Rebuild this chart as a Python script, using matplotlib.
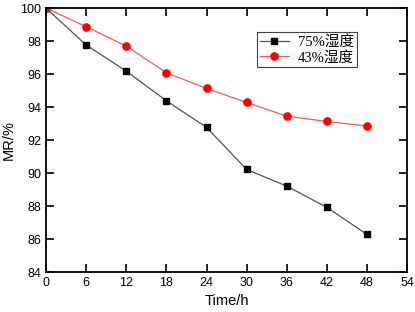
import numpy as np
import matplotlib.pyplot as plt

time_h = [0, 6, 12, 18, 24, 30, 36, 42, 48]
mr_75 = [100, 97.76, 96.18, 94.38, 92.77, 90.22, 89.21, 87.92, 86.28]
mr_43 = [100, 98.87, 97.70, 96.08, 95.13, 94.28, 93.45, 93.13, 92.85]
labels = ['75%湿度', '43%湿度']

plt.rcParams['font.family'] = ['Liberation Sans', 'DejaVu Sans']

fig = plt.figure(figsize=(4.15, 3.12), dpi=100)
ax = fig.add_axes([0.111, 0.128, 0.870, 0.846])

ax.plot(time_h, mr_75, color='#555555', lw=0.9, marker='s', ms=4.6,
        mfc='black', mec='black', label=labels[0])
ax.plot(time_h, mr_43, color='#ff5555', lw=0.9, marker='o', ms=5.2,
        mfc='red', mec='red', label=labels[1])

ax.set_xlim(0, 54)
ax.set_ylim(84, 100)
ax.set_xticks(np.arange(0, 55, 6))
ax.set_yticks(np.arange(84, 101, 2))
ax.tick_params(direction='in', top=True, right=True, labeltop=False,
               labelright=False, labelsize=9, length=5.5, width=1.2)
for s in ax.spines.values():
    s.set_linewidth(1.3)

ax.set_xlabel('Time/h', fontsize=10.5)
ax.set_ylabel('MR/%', fontsize=10.5, labelpad=3)

leg = ax.legend(loc='upper left', bbox_to_anchor=(0.584, 0.909),
                prop={'family': ['Liberation Serif', 'Noto Sans CJK SC'], 'size': 10.5},
                fancybox=False, edgecolor='#444444', framealpha=1,
                borderpad=0.2, labelspacing=0.15, handlelength=2.0,
                handletextpad=0.6, borderaxespad=0)
leg.get_frame().set_linewidth(0.8)

fig.savefig('out.png', dpi=100)
